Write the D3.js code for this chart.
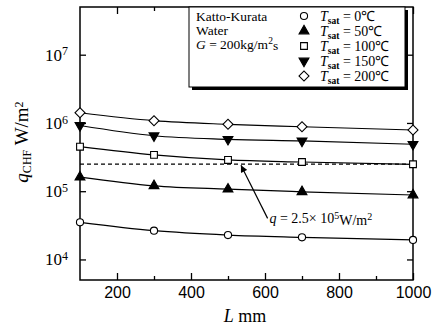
<!DOCTYPE html>
<html>
<head>
<meta charset="utf-8">
<script src="https://cdn.jsdelivr.net/npm/d3@7"></script>
<style>
  body { margin: 0; background: white; }
  text { font-family: "Liberation Serif", "Times New Roman", serif; fill: black; }
</style>
</head>
<body>
<div id="chart"></div>
<script>
// data (L in mm, q_CHF in W/m2)
var lengths = [100, 300, 500, 700, 1000];
var q0   = [3.5e4, 2.64e4, 2.28e4, 2.11e4, 1.93e4];
var q50  = [1.61e5, 1.2e5, 1.07e5, 9.8e4, 8.8e4];
var q100 = [4.49e5, 3.4e5, 2.87e5, 2.68e5, 2.48e5];
var q150 = [9.18e5, 6.5e5, 5.76e5, 5.45e5, 4.87e5];
var q200 = [1.41e6, 1.08e6, 9.55e5, 8.8e5, 7.88e5];
var seriesTemps = ["0", "50", "100", "150", "200"];
var seriesMarks = ["circle", "triUp", "square", "triDown", "diamond"];

var xTicks = [200, 400, 600, 800, 1000];
var xMinor = [300, 500, 700, 900];
var yTicks = [1e4, 1e5, 1e6, 1e7];
var qLevel = 2.5e5;
var legendNotes = ["Katto-Kurata", "Water"];

var margin = {top: 7, right: 20, bottom: 47, left: 80};
var width = 433 - margin.left - margin.right;
var height = 327 - margin.top - margin.bottom;

var svg = d3.select("#chart")
  .append("svg")
    .attr("width", 433)
    .attr("height", 327);

var g = svg.append("g")
  .attr("transform", "translate(" + margin.left + "," + margin.top + ")");

var x = d3.scaleLinear().domain([100, 1000]).range([0, width]);
var y = d3.scaleLog().domain([5e3, 5e7]).range([height, 0]);

// axes, ticks pointing inward
var xAxis = g.append("g")
  .attr("transform", "translate(0," + height + ")")
  .call(d3.axisBottom(x).tickValues(xTicks).tickSizeInner(-7).tickSizeOuter(0).tickPadding(7).tickFormat(d3.format("d")));
xAxis.selectAll("text")
  .style("font-family", "'Liberation Sans', Arial, sans-serif")
  .style("font-size", "16px");

g.append("g")
  .attr("transform", "translate(0," + height + ")")
  .call(d3.axisBottom(x).tickValues(xMinor).tickSizeInner(-4).tickSizeOuter(0).tickFormat(""));

g.append("g")
  .call(d3.axisTop(x).tickValues(xTicks).tickSizeInner(-7).tickSizeOuter(0).tickFormat(""));
g.append("g")
  .call(d3.axisTop(x).tickValues(xMinor).tickSizeInner(-4).tickSizeOuter(0).tickFormat(""));

var yAxis = g.append("g")
  .call(d3.axisLeft(y).tickValues(yTicks).tickSizeInner(-6).tickSizeOuter(0).tickPadding(12));
yAxis.selectAll(".tick text")
  .text(null)
  .style("font-size", "17px")
  .each(function(d){
    var t = d3.select(this);
    t.append("tspan").text("10");
    t.append("tspan").attr("dy", "-0.45em").style("font-size", "12px").text(Math.round(Math.log10(d)));
  });

g.append("g")
  .attr("transform", "translate(" + width + ",0)")
  .call(d3.axisRight(y).tickValues(yTicks).tickSizeInner(-6).tickSizeOuter(0).tickFormat(""));

g.selectAll(".domain").remove();
g.selectAll(".tick line").attr("stroke-width", 1.3);

g.append("rect")
  .attr("width", width)
  .attr("height", height)
  .attr("fill", "none")
  .attr("stroke", "black")
  .attr("stroke-width", 1.5);

// reference level
g.append("line")
  .attr("x1", 0)
  .attr("x2", width)
  .attr("y1", y(qLevel))
  .attr("y2", y(qLevel))
  .attr("stroke", "black")
  .attr("stroke-width", 1.2)
  .attr("stroke-dasharray", "4,3");

// curves
var allSeries = [q0, q50, q100, q150, q200];
var line = d3.line()
  .x(function(d, i){ return x(lengths[i]); })
  .y(function(d){ return y(d); })
  .curve(d3.curveMonotoneX);

g.selectAll(".curve")
  .data(allSeries)
  .enter()
  .append("path")
  .attr("class", "curve")
  .attr("d", line)
  .attr("fill", "none")
  .attr("stroke", "black")
  .attr("stroke-width", 1.2);

function markerPath(kind){
  if (kind == "circle") return d3.symbol().type(d3.symbolCircle).size(40)();
  if (kind == "square") return d3.symbol().type(d3.symbolSquare).size(46)();
  if (kind == "diamond") return d3.symbol().type(d3.symbolSquare).size(50)();
  return d3.symbol().type(d3.symbolTriangle).size(42)();
}
function markerTransform(kind, px, py){
  var r = "";
  if (kind == "diamond") r = " rotate(45)";
  if (kind == "triDown") r = " rotate(180)";
  return "translate(" + px + "," + py + ")" + r;
}
function markerFill(kind){
  return (kind == "triUp" || kind == "triDown") ? "black" : "white";
}

allSeries.forEach(function(vals, s){
  var kind = seriesMarks[s];
  g.selectAll(".m" + s)
    .data(vals)
    .enter()
    .append("path")
    .attr("class", "m" + s)
    .attr("d", markerPath(kind))
    .attr("transform", function(d, i){ return markerTransform(kind, x(lengths[i]), y(d)); })
    .attr("fill", markerFill(kind))
    .attr("stroke", "black")
    .attr("stroke-width", 1.1);
});

// arrow annotation
var arrowFrom = [607, 4.0e4];
var arrowTo = [535, 2.4e5];
svg.append("defs").append("marker")
  .attr("id", "head")
  .attr("viewBox", "0 0 10 10")
  .attr("refX", 10).attr("refY", 5)
  .attr("markerWidth", 9).attr("markerHeight", 7)
  .attr("markerUnits", "userSpaceOnUse")
  .attr("orient", "auto")
  .append("path")
  .attr("d", "M0,0L10,5L0,10z")
  .attr("fill", "black");

g.append("line")
  .attr("x1", x(arrowFrom[0])).attr("y1", y(arrowFrom[1]))
  .attr("x2", x(arrowTo[0])).attr("y2", y(arrowTo[1]))
  .attr("stroke", "black")
  .attr("stroke-width", 1.2)
  .attr("marker-end", "url(#head)");

var note = g.append("text")
  .attr("x", x(612))
  .attr("y", y(3.4e4))
  .style("font-size", "14px");
note.append("tspan").style("font-style", "italic").text("q");
note.append("tspan").text(" = 2.5× 10");
note.append("tspan").attr("dy", "-0.45em").style("font-size", "10px").text("5");
note.append("tspan").attr("dy", "0.45em").text("W/m");
note.append("tspan").attr("dy", "-0.45em").style("font-size", "10px").text("2");

// legend box with shadow
var leg = svg.append("g").attr("transform", "translate(189,7)");
leg.append("rect")
  .attr("x", 3).attr("y", 3)
  .attr("width", 216).attr("height", 80)
  .attr("fill", "black");
leg.append("rect")
  .attr("width", 216).attr("height", 80)
  .attr("fill", "white")
  .attr("stroke", "black")
  .attr("stroke-width", 1);

leg.selectAll(".note")
  .data(legendNotes)
  .enter()
  .append("text")
  .attr("class", "note")
  .attr("x", 7)
  .attr("y", function(d, i){ return 13.5 + i * 14; })
  .style("font-size", "13.5px")
  .text(function(d){ return d; });

var gLine = leg.append("text")
  .attr("x", 7)
  .attr("y", 41.5)
  .style("font-size", "13.5px");
gLine.append("tspan").style("font-style", "italic").text("G");
gLine.append("tspan").text(" = 200kg/m");
gLine.append("tspan").attr("dy", "-0.45em").style("font-size", "9.5px").text("2");
gLine.append("tspan").attr("dy", "0.45em").text("s");

seriesTemps.forEach(function(t, i){
  var kind = seriesMarks[i];
  var ry = 9 + i * 15;
  leg.append("path")
    .attr("d", markerPath(kind))
    .attr("transform", markerTransform(kind, 115, ry))
    .attr("fill", markerFill(kind))
    .attr("stroke", "black")
    .attr("stroke-width", 1.1);
  var lt = leg.append("text")
    .attr("x", 131)
    .attr("y", ry + 4.5)
    .style("font-size", "14px");
  lt.append("tspan").style("font-style", "italic").text("T");
  lt.append("tspan").attr("dy", "3").style("font-size", "9.5px").style("font-weight", "bold").text("sat");
  lt.append("tspan").attr("dy", "-3").text(" = " + t + "℃");
});

// axis titles
var xl = svg.append("text")
  .attr("x", 245)
  .attr("y", 322)
  .attr("text-anchor", "middle")
  .style("font-size", "18px");
xl.append("tspan").style("font-style", "italic").text("L");
xl.append("tspan").text(" mm");

var yl = svg.append("text")
  .attr("transform", "translate(28,142) rotate(-90)")
  .attr("text-anchor", "middle")
  .style("font-size", "19px");
yl.append("tspan").style("font-style", "italic").text("q");
yl.append("tspan").attr("dy", "3").style("font-size", "12px").text("CHF");
yl.append("tspan").attr("dy", "-3").text(" W/m");
yl.append("tspan").attr("dy", "-0.45em").style("font-size", "12px").text("2");
</script>
</body>
</html>
